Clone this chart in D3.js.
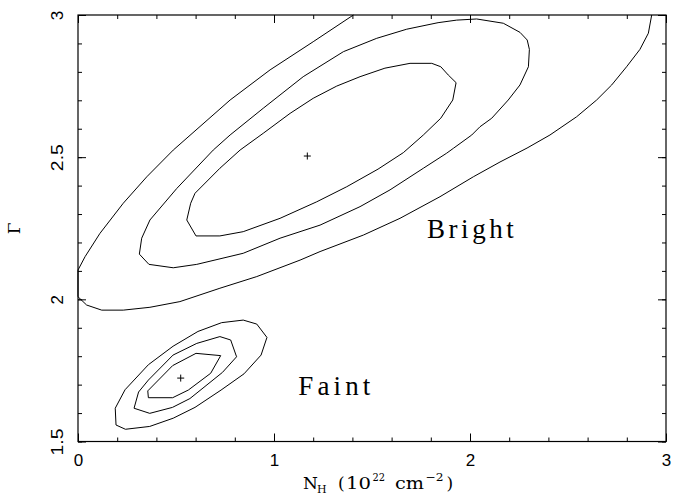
<!DOCTYPE html>
<html>
<head>
<meta charset="utf-8">
<script src="https://cdn.jsdelivr.net/npm/d3@7"></script>
<style>
  html, body { margin: 0; padding: 0; background: #fff; }
  svg { display: block; }
</style>
</head>
<body>
<svg id="chart" width="673" height="496"></svg>
<script>
// ---- Data: confidence contours in the (N_H, photon index) plane ----
const xTickValues = [0, 1, 2, 3];
const xTickLabels = ["0", "1", "2", "3"];
const yTickValues = [1.5, 2, 2.5, 3];
const yTickLabels = ["1.5", "2", "2.5", "3"];

// best-fit points [N_H, Gamma]
const faintBest = [0.524, 1.723];
const brightBest = [1.170, 2.504];

// faint state: three closed contours
const faintInner = [[0.602,1.810],[0.728,1.802],[0.677,1.740],[0.563,1.681],[0.483,1.654],
  [0.359,1.654],[0.356,1.678],[0.483,1.767]];
const faintMid = [[0.724,1.869],[0.779,1.857],[0.809,1.798],[0.737,1.743],[0.571,1.651],
  [0.482,1.620],[0.366,1.599],[0.286,1.617],[0.309,1.674],[0.359,1.716],[0.485,1.804],[0.606,1.845]];
const faintOuter = [[0.733,1.918],[0.843,1.927],[0.912,1.913],[0.964,1.866],[0.934,1.804],
  [0.847,1.738],[0.730,1.681],[0.597,1.620],[0.486,1.582],[0.366,1.553],[0.242,1.543],
  [0.194,1.558],[0.190,1.617],[0.240,1.682],[0.359,1.770],[0.485,1.835],[0.612,1.887]];

// bright state: two closed contours and one that leaves the plotted range
const brightInner = [[0.555,2.279],[0.575,2.338],[0.597,2.373],[0.724,2.461],[0.827,2.525],
  [0.945,2.584],[1.082,2.654],[1.200,2.707],[1.320,2.750],[1.439,2.783],[1.566,2.813],
  [1.694,2.830],[1.805,2.830],[1.851,2.818],[1.889,2.789],[1.929,2.762],[1.912,2.701],
  [1.851,2.637],[1.762,2.578],[1.660,2.516],[1.531,2.458],[1.371,2.396],[1.218,2.343],
  [1.031,2.285],[0.843,2.238],[0.724,2.223],[0.602,2.223]];
const brightMid = [[0.313,2.159],[0.325,2.215],[0.367,2.279],[0.504,2.390],[0.690,2.525],
  [0.776,2.578],[0.945,2.672],[1.149,2.783],[1.354,2.871],[1.524,2.918],[1.677,2.950],
  [1.837,2.973],[1.932,2.982],[2.034,2.986],[2.170,2.971],[2.255,2.939],[2.292,2.912],
  [2.303,2.879],[2.298,2.818],[2.255,2.754],[2.195,2.701],[2.111,2.637],[2.051,2.607],
  [2.009,2.578],[1.915,2.531],[1.881,2.514],[1.762,2.461],[1.592,2.385],[1.439,2.326],
  [1.235,2.261],[1.031,2.215],[0.843,2.162],[0.606,2.123],[0.486,2.111],[0.362,2.123]];
const brightOuter = [[1.405,3.000],[1.200,2.906],[0.980,2.807],[0.776,2.701],[0.486,2.525],
  [0.351,2.431],[0.231,2.338],[0.112,2.232],[0.036,2.150],[0.000,2.103],[0.000,2.009],
  [0.044,1.980],[0.121,1.962],[0.231,1.962],[0.367,1.972],[0.520,1.992],[0.724,2.039],
  [0.912,2.080],[1.133,2.138],[1.235,2.168],[1.456,2.226],[1.643,2.285],[1.847,2.361],
  [2.017,2.431],[2.153,2.483],[2.291,2.532],[2.408,2.578],[2.544,2.642],[2.646,2.701],
  [2.723,2.754],[2.799,2.818],[2.867,2.879],[2.910,2.936],[2.927,3.000]];

const closedContours = [faintInner, faintMid, faintOuter, brightInner, brightMid];
const openContours = [brightOuter];
const bestFits = [faintBest, brightBest];

// state labels, anchored in data coordinates
const stateLabels = [
  { text: "Bright", at: [1.78, 2.217], len: 87 },
  { text: "Faint",  at: [1.124, 1.664], len: 72 }
];

// ---- Layout ----
const W = 673, H = 496;
const margin = { left: 78, top: 15, right: 7, bottom: 54.5 };
const x = d3.scaleLinear().domain([0, 3]).range([margin.left, W - margin.right]);
const y = d3.scaleLinear().domain([1.5, 3]).range([H - margin.bottom, margin.top]);

const svg = d3.select("#chart");
const tickFont = "'Liberation Sans', Arial, Helvetica, sans-serif";
const romanFont = "'DejaVu Serif', 'Liberation Serif', serif";
const lightRoman = "'Liberation Serif', 'Times New Roman', serif";

const xMinor = d3.range(0, 31, 2).map(v => v / 10);
const yMinor = d3.range(15, 31, 1).map(v => v / 10);

function strip(g) {
  g.select(".domain").remove();
  g.selectAll(".tick line").attr("stroke", "#000").attr("stroke-width", 1);
}

// minor ticks on all four sides
svg.append("g").attr("transform", `translate(0,${y(1.5)})`)
  .call(d3.axisBottom(x).tickValues(xMinor).tickSize(-4).tickFormat("")).call(strip);
svg.append("g").attr("transform", `translate(0,${y(3)})`)
  .call(d3.axisTop(x).tickValues(xMinor).tickSize(-4).tickFormat("")).call(strip);
svg.append("g").attr("transform", `translate(${x(0)},0)`)
  .call(d3.axisLeft(y).tickValues(yMinor).tickSize(-4).tickFormat("")).call(strip);
svg.append("g").attr("transform", `translate(${x(3)},0)`)
  .call(d3.axisRight(y).tickValues(yMinor).tickSize(-4).tickFormat("")).call(strip);

// major ticks
const xAxis = svg.append("g").attr("transform", `translate(0,${y(1.5)})`)
  .call(d3.axisBottom(x).tickValues(xTickValues).tickSize(-8)
    .tickFormat((d, i) => xTickLabels[i])).call(strip);
xAxis.selectAll("text")
  .attr("y", 24.5).attr("dy", null)
  .attr("fill", "#000")
  .style("font-family", tickFont).style("font-size", "17px");

svg.append("g").attr("transform", `translate(0,${y(3)})`)
  .call(d3.axisTop(x).tickValues(xTickValues).tickSize(-8).tickFormat("")).call(strip);

const yAxis = svg.append("g").attr("transform", `translate(${x(0)},0)`)
  .call(d3.axisLeft(y).tickValues(yTickValues).tickSize(-8)
    .tickFormat((d, i) => yTickLabels[i])).call(strip);
yAxis.selectAll("text")
  .attr("x", null).attr("y", null).attr("dy", null)
  .attr("text-anchor", "middle")
  .attr("transform", "translate(-15,0) rotate(-90)")
  .attr("fill", "#000")
  .style("font-family", tickFont).style("font-size", "17px")
  .each(function () {
    const t = d3.select(this);
    if (t.text().length > 1) t.attr("textLength", 27).attr("lengthAdjust", "spacingAndGlyphs");
  });

svg.append("g").attr("transform", `translate(${x(3)},0)`)
  .call(d3.axisRight(y).tickValues(yTickValues).tickSize(-8).tickFormat("")).call(strip);

// frame
svg.append("rect")
  .attr("x", x(0)).attr("y", y(3))
  .attr("width", x(3) - x(0)).attr("height", y(1.5) - y(3))
  .attr("fill", "none").attr("stroke", "#000").attr("stroke-width", 1.2);

// contours
const plot = svg.append("g").attr("fill", "none").attr("stroke", "#000").attr("stroke-width", 1);
const closedLine = d3.line().x(d => x(d[0])).y(d => y(d[1])).curve(d3.curveLinearClosed);
const openLine = d3.line().x(d => x(d[0])).y(d => y(d[1]));

plot.selectAll("path.closed").data(closedContours).join("path")
  .attr("class", "closed").attr("d", closedLine);
plot.selectAll("path.open").data(openContours).join("path")
  .attr("class", "open").attr("d", openLine);

// best-fit crosses
const arm = 3.5;
plot.selectAll("path.best").data(bestFits).join("path")
  .attr("class", "best")
  .attr("d", d => {
    const cx = x(d[0]), cy = y(d[1]);
    return `M${cx - arm},${cy}H${cx + arm}M${cx},${cy - arm}V${cy + arm}`;
  });

// state labels (letter-spaced, glyphs kept at natural width)
svg.selectAll("text.state").data(stateLabels).join("text")
  .attr("class", "state")
  .attr("x", d => x(d.at[0])).attr("y", d => y(d.at[1]))
  .attr("textLength", d => d.len).attr("lengthAdjust", "spacing")
  .style("font-family", lightRoman).style("font-size", "27px")
  .attr("fill", "#000")
  .text(d => d.text);

// x-axis title: N_H (10^22 cm^-2)
const xt = svg.append("text")
  .attr("y", 489)
  .style("font-family", romanFont).style("font-size", "17px")
  .attr("fill", "#000");
const pieces = [
  { t: "N",   x: 303,   dy: 0,  size: 17 },
  { t: "H",   x: 317,   dy: 4,  size: 11 },
  { t: "(",   x: 338,   dy: -4, size: 17 },
  { t: "10",  x: 346,   dy: 0,  size: 17, len: 25 },
  { t: "22",  x: 372.5, dy: -8, size: 11, len: 12.5 },
  { t: "cm",  x: 395,   dy: 8,  size: 17, len: 29 },
  { t: "\u22122", x: 425.5, dy: -8, size: 11, len: 18 },
  { t: ")",   x: 446.5, dy: 8,  size: 17 }
];
pieces.forEach(p => {
  const s = xt.append("tspan").attr("x", p.x).attr("dy", p.dy)
    .style("font-size", p.size + "px").text(p.t);
  if (p.len) s.attr("textLength", p.len).attr("lengthAdjust", "spacingAndGlyphs");
});

// y-axis title: Gamma
svg.append("text")
  .attr("transform", `translate(20,${(y(1.5) + y(3)) / 2}) rotate(-90)`)
  .attr("text-anchor", "middle")
  .style("font-family", romanFont).style("font-size", "17px")
  .attr("fill", "#000")
  .text("\u0393");
</script>
</body>
</html>
